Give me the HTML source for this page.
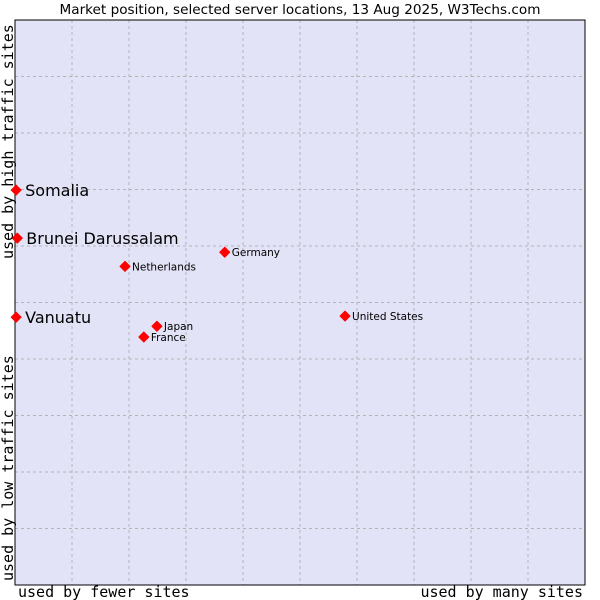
<!DOCTYPE html>
<html><head><meta charset="utf-8"><style>
body{margin:0;background:#fff}
svg{display:block}
text{font-family:"DejaVu Sans",sans-serif;fill:#000}
.mono{font-family:"DejaVu Sans Mono",monospace;font-size:15px}
</style></head><body>
<svg id="chart" width="600" height="600">
<text x="300" y="14" text-anchor="middle" font-size="13.6">Market position, selected server locations, 13 Aug 2025, W3Techs.com</text>
<rect x="15" y="20" width="570" height="565" fill="#e3e3f7"/>
<g id="grid"></g>
<rect x="15" y="20" width="570" height="565" fill="none" stroke="#000" stroke-width="1"/>
<g id="points"></g>
<text class="mono" x="18" y="597">used by fewer sites</text>
<text class="mono" x="583" y="597" text-anchor="end">used by many sites</text>
<text class="mono" transform="translate(13,581) rotate(-90)">used by low traffic sites</text>
<text class="mono" transform="translate(13,259) rotate(-90)">used by high traffic sites</text>
</svg>
<script>
const labels=["Somalia","Brunei Darussalam","Vanuatu","Netherlands","Germany","Japan","France","United States"];
const xVals=[0.2,0.4,0.2,19.3,36.8,24.9,22.6,57.9];
const yVals=[69.9,61.4,47.4,56.4,58.9,45.8,43.9,47.6];
const big=[true,true,true,false,false,false,false,false];
const ticks=[10,20,30,40,50,60,70,80,90];
const X=v=>15+v*5.7, Y=v=>585-v*5.65;
const ns="http://www.w3.org/2000/svg";
const g=document.getElementById('grid'), p=document.getElementById('points');
ticks.forEach(t=>{
 const l=document.createElementNS(ns,'line');
 l.setAttribute('x1',X(t));l.setAttribute('x2',X(t));l.setAttribute('y1',20);l.setAttribute('y2',585);
 l.setAttribute('stroke','#b4b4b4');l.setAttribute('stroke-dasharray','3,3');
 
 
 g.appendChild(l);
 const m=document.createElementNS(ns,'line');
 m.setAttribute('y1',Y(t));m.setAttribute('y2',Y(t));m.setAttribute('x1',15);m.setAttribute('x2',585);
 m.setAttribute('stroke','#b4b4b4');m.setAttribute('stroke-dasharray','3,3');
 
 
 g.appendChild(m);
});
labels.forEach((lb,i)=>{
 const cx=X(xVals[i]), cy=Y(yVals[i]);
 const d=document.createElementNS(ns,'polygon');
 d.setAttribute('points',`${cx},${cy-5} ${cx+5},${cy} ${cx},${cy+5} ${cx-5},${cy}`);
 d.setAttribute('fill','#f00');
 d.setAttribute('stroke','#f00');
 d.setAttribute('stroke-width','1');
 d.setAttribute('stroke-linejoin','round');
 
 
 p.appendChild(d);
 const t=document.createElementNS(ns,'text');
 t.setAttribute('x',cx+(big[i]?9:7));t.setAttribute('y',cy+(big[i]?6:4));
 t.setAttribute('font-size',big[i]?16:10.5);
 t.textContent=lb;
 
 
 p.appendChild(t);
});
</script>
</body></html>
